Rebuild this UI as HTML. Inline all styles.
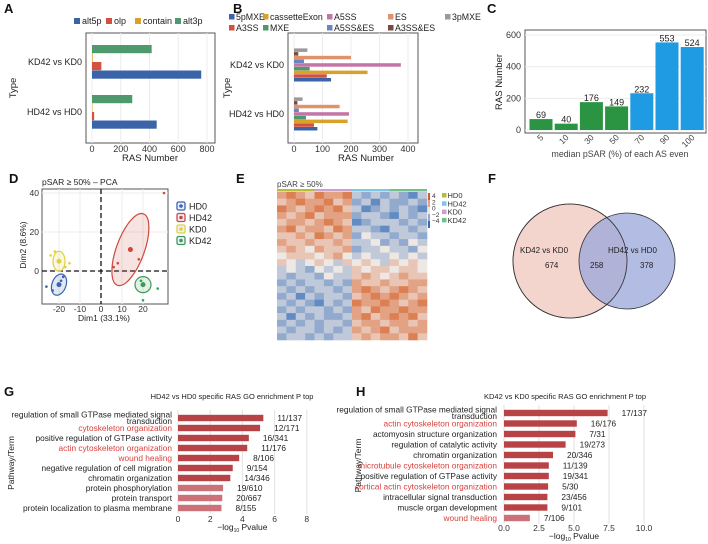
<!DOCTYPE html>
<html><head><meta charset="utf-8"><style>
html,body{margin:0;padding:0;background:#fff}
svg{display:block;font-family:"Liberation Sans",Arial,sans-serif}
</style></head><body>
<svg id="fig" width="708" height="544" viewBox="0 0 708 544" xmlns="http://www.w3.org/2000/svg">
<g font-weight="bold" font-size="13" fill="#111">
<text x="4" y="13">A</text>
<text x="233" y="13">B</text>
<text x="487" y="13">C</text>
<text x="9" y="183">D</text>
<text x="236" y="183">E</text>
<text x="488" y="183">F</text>
<text x="4" y="396">G</text>
<text x="356" y="396">H</text>
</g>
<g id="A"></g><g id="B"></g><g id="C"></g><g id="D"></g><g id="E"></g><g id="F"></g><g id="G"></g><g id="H"></g>
</svg>
<script>
// ---------- data ----------
const catsAB = ["KD42 vs KD0", "HD42 vs HD0"];
const seriesA = ["alt3p", "contain", "olp", "alt5p"];
const alt3pA = [415, 280];
const containA = [5, 3];
const olpA = [65, 15];
const alt5pA = [760, 450];
const ticksA = [0, 200, 400, 600, 800];

const seriesB = ["3pMXE", "A3SS&ES", "ES", "A5SS&ES", "A5SS", "MXE", "cassetteExon", "A3SS", "5pMXE"];
const valsKD = [47, 15, 200, 35, 375, 55, 258, 115, 130];
const valsHD = [30, 12, 160, 17, 193, 42, 188, 70, 82];
const ticksB = [0, 100, 200, 300, 400];

const catsC = ["5", "10", "30", "50", "70", "90", "100"];
const valsC = [69, 40, 176, 149, 232, 553, 524];
const ticksC = [0, 200, 400, 600];

const groupsD = ["HD0", "HD42", "KD0", "KD42"];
const ptsDx = [[-20, -23, -18, -26, -19], [14, 30, 8, 6, 18], [-20, -22, -17, -24, -15], [20, 20, 27, 19]];
const ptsDy = [[-7, -10, -3, -8, -5], [11, 40, 4, 2, 6], [5, 10, 2, 8, 4], [-7, -15, -9, -5]];
const ticksDx = [-20, -10, 0, 10, 20];
const ticksDy = [0, 20, 40];

const heat = [
[2,3,2,1,3,2,2,3,-1,-2,-1,-2,-1,-2,-3,-1],
[1,2,3,2,2,3,1,2,-2,-1,-3,-1,-2,-2,-1,-2],
[3,2,1,2,3,2,3,1,-1,-3,-2,-1,-2,-1,-2,-3],
[2,1,2,3,1,2,2,2,-2,-1,-1,-2,-3,-1,-2,-1],
[1,2,2,1,2,3,2,1,-3,-2,-1,-1,-1,-2,-1,-2],
[2,3,1,2,2,1,3,2,-1,-1,-2,-3,-1,-1,-2,-1],
[1,1,2,1,3,2,1,2,-2,0,-1,-1,-2,-1,-1,-2],
[2,1,1,2,1,1,2,1,-1,-1,0,-2,-1,-2,0,-1],
[1,2,1,0,2,1,1,2,-2,-1,-1,0,-1,-1,-2,0],
[0,1,1,1,0,1,2,0,-1,0,-1,-1,0,-1,0,-1],
[1,0,-1,0,1,0,-1,1,0,1,0,-1,1,0,1,0],
[-1,0,-1,-2,0,-1,0,-1,1,0,1,1,0,1,1,0],
[-1,-2,-1,-1,-2,0,-1,-1,1,2,1,0,1,2,1,1],
[-2,-1,-2,-1,-1,-2,-1,-2,2,1,1,2,1,1,2,2],
[-1,-2,-1,-2,-1,-1,-2,-1,2,3,2,1,2,3,2,1],
[-2,-1,-3,-1,-2,-1,-1,-2,1,2,3,2,3,2,1,2],
[-1,-2,-1,-2,-3,-1,-2,-1,3,2,2,3,2,1,2,3],
[-2,-1,-2,-1,-1,-2,-1,-2,2,1,3,2,2,3,2,2],
[-1,-3,-1,-2,-1,-2,-2,-1,2,3,1,2,3,2,3,1],
[-2,-1,-2,-1,-2,-1,-1,-2,1,2,2,1,2,2,1,2],
[-1,-2,-1,-1,-2,-1,-2,-1,2,1,2,3,1,2,2,2],
[-2,-1,-1,-2,-1,-2,-1,-1,1,2,1,2,2,1,3,1]
];
const heatGroups = ["HD0", "KD0", "HD42", "KD42"];

const vennLabels = ["KD42 vs KD0", "HD42 vs HD0"];
const vennCounts = [674, 258, 378];

const termsG = ["regulation of small GTPase mediated signal|transduction", "cytoskeleton organization", "positive regulation of GTPase activity", "actin cytoskeleton organization", "wound healing", "negative regulation of cell migration", "chromatin organization", "protein phosphorylation", "protein transport", "protein localization to plasma membrane"];
const valsG = [5.3, 5.1, 4.4, 4.3, 3.8, 3.4, 3.25, 2.8, 2.75, 2.7];
const countsG = ["11/137", "12/171", "16/341", "11/176", "8/106", "9/154", "14/346", "19/610", "20/667", "8/155"];
const redG = [0, 1, 0, 1, 1, 0, 0, 0, 0, 0];
const ticksG = [0, 2, 4, 6, 8];

const termsH = ["regulation of small GTPase mediated signal|transduction", "actin cytoskeleton organization", "actomyosin structure organization", "regulation of catalytic activity", "chromatin organization", "microtubule cytoskeleton organization", "positive regulation of GTPase activity", "cortical actin cytoskeleton organization", "intracellular signal transduction", "muscle organ development", "wound healing"];
const valsH = [7.4, 5.2, 5.1, 4.4, 3.5, 3.2, 3.2, 3.15, 3.1, 3.1, 1.85];
const countsH = ["17/137", "16/176", "7/31", "19/273", "20/346", "11/139", "19/341", "5/30", "23/456", "9/101", "7/106"];
const redH = [0, 1, 0, 0, 0, 1, 0, 1, 0, 0, 1];
const ticksH = [0, 2.5, 5, 7.5, 10];

// ---------- helpers ----------
const NS = "http://www.w3.org/2000/svg";
function mk(parent, tag, attrs, txt) {
  const e = document.createElementNS(NS, tag);
  for (const k in attrs) e.setAttribute(k, attrs[k]);
  if (txt !== undefined) e.textContent = txt;
  document.getElementById(parent).appendChild(e);
  return e;
}
let el;
const colA = {"alt5p": "#3b64a8", "olp": "#d2513f", "contain": "#d9a02c", "alt3p": "#4e9a6e"};
const colB = {"5pMXE": "#3b64a8", "A3SS": "#d2513f", "cassetteExon": "#d9a02c", "MXE": "#4e9a6e", "A5SS": "#c375a8", "A5SS&ES": "#6a84c0", "ES": "#e0926b", "A3SS&ES": "#7a4a42", "3pMXE": "#9a9a9a"};

// ---------- Panel A ----------
const xA = v => 92 + v * 115 / 800;
const yCat = [62, 112];
el = mk("A", "rect", {x: 86, y: 33, width: 129, height: 110, fill: "#fff", stroke: "#555", "stroke-width": 1});


ticksA.forEach(t => {
  el = mk("A", "line", {x1: xA(t), x2: xA(t), y1: 33, y2: 143, stroke: "#ececec"});
  
  
  el = mk("A", "text", {x: xA(t), y: 152, "font-size": 9, "text-anchor": "middle", fill: "#333"}, t);
  
  
});
const dataA = [alt3pA, containA, olpA, alt5pA];
catsAB.forEach((c, ci) => {
  seriesA.forEach((s, si) => {
    el = mk("A", "rect", {x: xA(0), y: yCat[ci] - 17 + si * 8.5, width: xA(dataA[si][ci]) - xA(0), height: 8.2, fill: colA[s]});
    
    
  });
  el = mk("A", "text", {x: 82, y: yCat[ci] + 3, "font-size": 9, "text-anchor": "end", fill: "#222"}, c);
  
  
});
el = mk("A", "text", {x: 150, y: 161, "font-size": 9.5, "text-anchor": "middle", fill: "#222"}, "RAS Number");


el = mk("A", "text", {x: 0, y: 0, "font-size": 9.5, "text-anchor": "middle", fill: "#222", transform: "translate(16,88) rotate(-90)"}, "Type");


["alt5p", "olp", "contain", "alt3p"].forEach((s, i) => {
  const lx = [74, 106, 135, 175][i];
  el = mk("A", "rect", {x: lx, y: 18, width: 6, height: 6, fill: colA[s]});
  
  
  el = mk("A", "text", {x: lx + 8, y: 24, "font-size": 9, fill: "#222"}, s);
  
  
});

// ---------- Panel B ----------
const xB = v => 294 + v * 114 / 400;
el = mk("B", "rect", {x: 288, y: 33, width: 130, height: 110, fill: "#fff", stroke: "#555", "stroke-width": 1});


ticksB.forEach(t => {
  el = mk("B", "line", {x1: xB(t), x2: xB(t), y1: 33, y2: 143, stroke: "#ececec"});
  
  
  el = mk("B", "text", {x: xB(t), y: 152, "font-size": 9, "text-anchor": "middle", fill: "#333"}, t);
  
  
});
const dataB = [valsKD, valsHD];
const yCatB = [65, 114];
catsAB.forEach((c, ci) => {
  seriesB.forEach((s, si) => {
    el = mk("B", "rect", {x: xB(0), y: yCatB[ci] - 16.6 + si * 3.7, width: xB(dataB[ci][si]) - xB(0), height: 3.5, fill: colB[s]});
    
    
  });
  el = mk("B", "text", {x: 284, y: yCatB[ci] + 3, "font-size": 9, "text-anchor": "end", fill: "#222"}, c);
  
  
});
el = mk("B", "text", {x: 366, y: 161, "font-size": 9.5, "text-anchor": "middle", fill: "#222"}, "RAS Number");


el = mk("B", "text", {x: 0, y: 0, "font-size": 9.5, "text-anchor": "middle", fill: "#222", transform: "translate(230,88) rotate(-90)"}, "Type");


const legB = [["5pMXE", 229, 0], ["cassetteExon", 263, 0], ["A5SS", 327, 0], ["ES", 388, 0], ["3pMXE", 445, 0], ["A3SS", 229, 1], ["MXE", 263, 1], ["A5SS&ES", 327, 1], ["A3SS&ES", 388, 1]];
legB.forEach(l => {
  el = mk("B", "rect", {x: l[1], y: 14 + l[2] * 11, width: 5.5, height: 5.5, fill: colB[l[0]]});
  
  
  el = mk("B", "text", {x: l[1] + 7, y: 20 + l[2] * 11, "font-size": 8.8, fill: "#222"}, l[0]);
  
  
});

// ---------- Panel C ----------
const yC = v => 130 - v * 95 / 600;
const xC = i => 541 + i * 25.2;
el = mk("C", "rect", {x: 525, y: 30, width: 181, height: 103, fill: "#fff", stroke: "#555", "stroke-width": 1});


ticksC.forEach(t => {
  el = mk("C", "line", {x1: 525, x2: 706, y1: yC(t), y2: yC(t), stroke: "#ececec"});
  
  
  el = mk("C", "text", {x: 521, y: yC(t) + 3, "font-size": 9, "text-anchor": "end", fill: "#333"}, t);
  
  
});
catsC.forEach((c, i) => {
  el = mk("C", "rect", {x: xC(i) - 11.5, y: yC(valsC[i]), width: 23, height: yC(0) - yC(valsC[i]), fill: i < 4 ? "#2b9442" : "#1e9be2"});
  
  
  el = mk("C", "text", {x: xC(i), y: yC(valsC[i]) - 1, "font-size": 9, "text-anchor": "middle", fill: "#222"}, valsC[i]);
  
  
  el = mk("C", "text", {x: 0, y: 0, "font-size": 8.5, "text-anchor": "end", fill: "#444", transform: "translate(" + (xC(i) + 3) + ",138) rotate(-45)"}, c);
  
  
});
el = mk("C", "text", {x: 620, y: 157, "font-size": 8.8, "text-anchor": "middle", fill: "#444"}, "median pSAR (%) of each AS even");


el = mk("C", "text", {x: 0, y: 0, "font-size": 9.5, "text-anchor": "middle", fill: "#222", transform: "translate(502,82) rotate(-90)"}, "RAS Number");



// ---------- Panel D ----------
const xD = v => 101 + v * 2.1;
const yD = v => 271 - v * 1.95;
const colD = ["#3b64b0", "#cc4a3c", "#e0d23a", "#3d9a5a"];
el = mk("D", "rect", {x: 42, y: 189, width: 126, height: 115, fill: "#fff", stroke: "#555"});


ticksDx.forEach(t => {
  el = mk("D", "line", {x1: xD(t), x2: xD(t), y1: 189, y2: 304, stroke: "#ececec"});
  
  
  el = mk("D", "text", {x: xD(t), y: 312, "font-size": 8.5, "text-anchor": "middle", fill: "#333"}, t);
  
  
});
ticksDy.forEach(t => {
  el = mk("D", "line", {x1: 42, x2: 168, y1: yD(t), y2: yD(t), stroke: "#ececec"});
  
  
  el = mk("D", "text", {x: 39, y: yD(t) + 3, "font-size": 8.5, "text-anchor": "end", fill: "#333"}, t);
  
  
});
el = mk("D", "line", {x1: 42, x2: 168, y1: yD(0), y2: yD(0), stroke: "#111", "stroke-width": 1.3, "stroke-dasharray": "5,3"});


el = mk("D", "line", {x1: xD(0), x2: xD(0), y1: 189, y2: 304, stroke: "#111", "stroke-width": 1.3, "stroke-dasharray": "5,3"});


const ellD = [[7, 11, 20, 0.15], [14, 38, 20, 0.15], [6, 10, 0, 0.15], [8, 8, 0, 0.15]];
groupsD.forEach((g, gi) => {
  const xs = ptsDx[gi], ys = ptsDy[gi];
  const mx = xD(xs[0]), my = yD(ys[0]);
  const e = ellD[gi];
  el = mk("D", "ellipse", {cx: mx, cy: my, rx: e[0], ry: e[1], transform: "rotate(" + e[2] + " " + mx + " " + my + ")", fill: colD[gi], "fill-opacity": e[3], stroke: colD[gi], "stroke-width": 1.2});
  
  
  xs.forEach((x, i) => {
    el = mk("D", "circle", {cx: xD(x), cy: yD(ys[i]), r: i === 0 ? 2.5 : 1.3, fill: colD[gi]});
    
    
  });
  el = mk("D", "rect", {x: 177, y: 202 + gi * 11.5, width: 8, height: 8, rx: 1.5, fill: "#eef", stroke: colD[gi], "stroke-width": 1.3});
  
  
  el = mk("D", "circle", {cx: 181, cy: 206 + gi * 11.5, r: 1.8, fill: colD[gi]});
  
  
  el = mk("D", "text", {x: 189, y: 209.5 + gi * 11.5, "font-size": 9, fill: "#222"}, g);
  
  
});
el = mk("D", "text", {x: 42, y: 185, "font-size": 8.5, fill: "#222"}, "pSAR \u2265 50% \u2013 PCA");


el = mk("D", "text", {x: 104, y: 321, "font-size": 8.5, "text-anchor": "middle", fill: "#222"}, "Dim1 (33.1%)");


el = mk("D", "text", {x: 0, y: 0, "font-size": 8.5, "text-anchor": "middle", fill: "#222", transform: "translate(26,245) rotate(-90)"}, "Dim2 (8.6%)");



// ---------- Panel E ----------
function heatCol(v) {
  const t = Math.max(-4, Math.min(4, v)) / 4;
  const mid = [238, 232, 228], pos = [214, 92, 34], neg = [52, 108, 184];
  const tgt = t >= 0 ? pos : neg, a = Math.abs(t);
  return "rgb(" + mid.map((m, i) => Math.round(m + (tgt[i] - m) * a)).join(",") + ")";
}
const hx0 = 277, hy0 = 192, hw = 150, hh = 148;
const cw = hw / heat[0].length, ch = hh / heat.length;
heat.forEach((row, r) => row.forEach((v, c) => {
  el = mk("E", "rect", {x: hx0 + c * cw, y: hy0 + r * ch, width: cw + 0.3, height: ch + 0.3, fill: heatCol(v)});
  
  
}));
const annCol = {"HD0": "#b5bd3a", "KD0": "#c9a0d0", "HD42": "#7ec6e8", "KD42": "#6fc08a"};
heatGroups.forEach((g, i) => {
  el = mk("E", "rect", {x: hx0 + i * hw / 4, y: 189, width: hw / 4, height: 2.5, fill: annCol[g]});
  
  
});
el = mk("E", "text", {x: 277, y: 187, "font-size": 8, fill: "#444"}, "pSAR \u2265 50%");


[4, 2, 0, -2, -4].forEach((t, i) => {
  el = mk("E", "rect", {x: 428, y: 193 + i * 7, width: 2, height: 7, fill: heatCol(t)});
  
  
  el = mk("E", "text", {x: 432, y: 198 + i * 6.3, "font-size": 6.5, fill: "#333"}, t === 0 ? "0" : (t < 0 ? "\u2212" + (-t) : t));
  
  
});
["HD0", "HD42", "KD0", "KD42"].forEach((g, i) => {
  el = mk("E", "rect", {x: 442, y: 193 + i * 8.3, width: 4.5, height: 4.5, fill: annCol[g]});
  
  
  el = mk("E", "text", {x: 447.5, y: 198 + i * 8.3, "font-size": 7.5, fill: "#333"}, g);
  
  
});

// ---------- Panel F ----------
el = mk("F", "circle", {cx: 570, cy: 261, r: 57, fill: "#f3d5cd", stroke: "#333", "stroke-width": 0.8});


el = mk("F", "circle", {cx: 627, cy: 261, r: 48, fill: "#9aa6da", "fill-opacity": 0.75, stroke: "#333", "stroke-width": 0.8});


el = mk("F", "circle", {cx: 570, cy: 261, r: 57, fill: "none", stroke: "#333", "stroke-width": 0.8});


[[vennLabels[0], 520, 253], [vennLabels[1], 608, 253]].forEach(l => {
  el = mk("F", "text", {x: l[1], y: l[2], "font-size": 8, fill: "#222"}, l[0]);
  
  
});
[[vennCounts[0], 545], [vennCounts[1], 590], [vennCounts[2], 640]].forEach(l => {
  el = mk("F", "text", {x: l[1], y: 268, "font-size": 8, fill: "#222"}, l[0]);
  
  
});

// ---------- Panels G / H ----------
function goPanel(id, terms, vals, counts, reds, ticks, x0, pxPerUnit, y0, dy, labelX, xMax, lightFrom, tickY, titleX, titleTxt, yTitleX) {
  const xs = v => x0 + v * pxPerUnit;
  ticks.forEach(t => {
    el = mk(id, "line", {x1: xs(t), x2: xs(t), y1: y0 - 8, y2: y0 + dy * (terms.length - 1) + 6, stroke: "#e2e2e2"});
    
    
    el = mk(id, "text", {x: xs(t), y: tickY, "font-size": 8.5, "text-anchor": "middle", fill: "#333"}, t.toFixed(id === "H" ? 1 : 0));
    
    
  });
  terms.forEach((t, i) => {
    const y = y0 + i * dy;
    el = mk(id, "rect", {x: x0, y: y - 3.2, width: xs(vals[i]) - x0, height: 6.4, fill: i >= lightFrom ? "#cc7178" : "#b84347"});
    
    
    el = mk(id, "text", {x: xs(vals[i]) + 14, y: y + 3, "font-size": 8.3, fill: "#222"}, counts[i]);
    
    
    const parts = t.split("|");
    const fill = reds[i] ? "#d8403c" : "#222";
    if (parts.length > 1) {
      el = mk(id, "text", {x: labelX, y: y - 0.5, "font-size": 8.3, "text-anchor": "end", fill: fill}, parts[0]);
      
      
      el = mk(id, "text", {x: labelX, y: y + 6, "font-size": 8.3, "text-anchor": "end", fill: fill}, parts[1]);
      
      
    } else {
      el = mk(id, "text", {x: labelX, y: y + 3, "font-size": 8.3, "text-anchor": "end", fill: fill}, t);
      
      
    }
  });
  el = mk(id, "text", {x: titleX, y: 399, "font-size": 7.5, "text-anchor": "middle", fill: "#222"}, titleTxt);
  
  
  const xt = mk(id, "text", {x: x0 + (xs(xMax) - x0) / 2, y: tickY + 8, "font-size": 8.5, "text-anchor": "middle", fill: "#222"});
  
  
  xt.innerHTML = '\u2212log<tspan font-size="5" dy="2">10</tspan><tspan dy="-2"> Pvalue</tspan>';
  el = mk(id, "text", {x: 0, y: 0, "font-size": 8.5, "text-anchor": "middle", fill: "#222", transform: "translate(" + yTitleX + "," + (y0 + dy * (terms.length - 1) / 2) + ") rotate(-90)"}, "Pathway/Term");
  
  
}
goPanel("G", termsG, valsG, countsG, redG, ticksG, 178, 16.1, 418, 10, 172, 8, 7, 522, 232, "HD42 vs HD0 specific RAS GO enrichment P top", 14);
goPanel("H", termsH, valsH, countsH, redH, ticksH, 504, 14, 413, 10.5, 497, 10, 10, 531, 565, "KD42 vs KD0 specific RAS GO enrichment P top", 361);
</script>
</body></html>
